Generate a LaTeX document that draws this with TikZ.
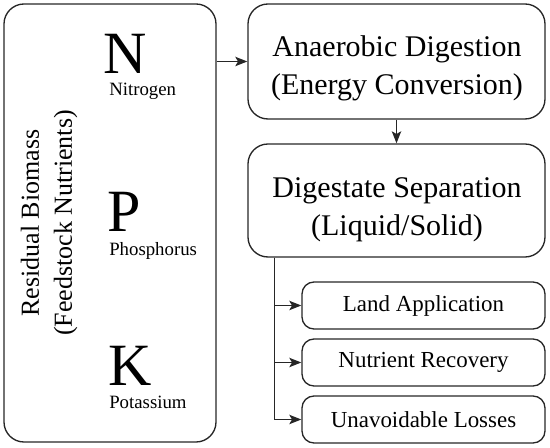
\documentclass[tikz,border=0pt]{standalone}
\usepackage{fontspec}
\setmainfont{Liberation Serif}
\usetikzlibrary{arrows.meta}

\tikzset{
	stagebox/.style={draw=black!85, line width=1pt, rounded corners=15pt, inner sep=0pt},
	bigstage/.style={stagebox, minimum width=222.75pt},
	smallstage/.style={stagebox, rounded corners=9pt, minimum width=182.25pt, minimum height=35.25pt, font=\fontsize{17.2}{20}\selectfont},
	stagetext/.style={align=center, inner sep=0pt, font=\fontsize{22.5}{28.5}\selectfont},
	element/.style={anchor=base, inner sep=0pt, font=\fontsize{45}{50}\selectfont},
	elementname/.style={anchor=base west, inner sep=0pt, font=\fontsize{14.1}{16}\selectfont},
	flow/.style={draw=black!85, line width=1pt, -{Stealth[length=9pt,width=7pt,inset=2pt]}}
}

\begin{document}
\begin{tikzpicture}[x=0.75pt, y=-0.75pt]
		%%%%% START %%%%%
		\useasboundingbox (0, 0) rectangle (550, 448);
		
		% feedstock
		\node[stagebox, minimum width=159pt, minimum height=328.5pt] (bio) at (110, 223) {};
		\node[rotate=90, align=center, inner sep=0pt, font=\fontsize{19.5}{24.75}\selectfont] (biotext) at (49, 223) {Residual Biomass\\(Feedstock Nutrients)};
		
		\node[element] (n) at (125.5, 74) {N};
		\node[elementname] (nname) at (109, 96) {Nitrogen};
		\node[element] (p) at (124, 232) {P};
		\node[elementname] (pname) at (109, 256) {Phosphorus};
		\node[element] (k) at (130, 386) {K};
		\node[elementname] (kname) at (109, 409) {Potassium};
		
		% digestion and separation
		\node[bigstage, minimum height=86.25pt] (ad) at (396.5, 61.5) {};
		\node[stagetext] (adtext) at (397, 68) {Anaerobic Digestion\\(Energy Conversion)};
		\node[bigstage, minimum height=84.75pt] (ds) at (396.5, 200.5) {};
		\node[stagetext] (dstext) at (397, 210) {Digestate Separation\\(Liquid/Solid)};
		
		% outlets
		\node[smallstage] (land) at (423.5, 305.5) {Land Application};
		\node[smallstage] (rec) at (423.5, 362.5) {Nutrient Recovery};
		\node[smallstage] (loss) at (423.5, 419.5) {Unavoidable Losses};
		
		\draw[flow] (bio.east |- ad.west) -- (ad.west);
		\draw[flow] (ad.south) -- (ds.north);
		
		\coordinate (tap) at ([xshift=20.25pt]ds.south west);
		\draw[flow] (tap) |- (land.west);
		\draw[flow] (tap) |- (rec.west);
		\draw[flow] (tap) |- (loss.west);
		
		%%%%% END %%%%%
\end{tikzpicture}
\end{document}
